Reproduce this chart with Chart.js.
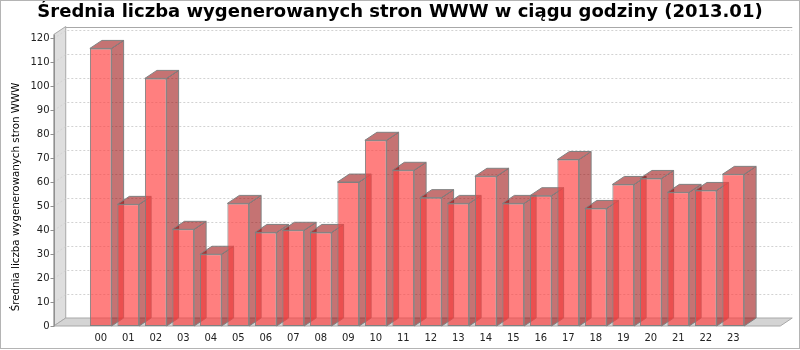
<!DOCTYPE html>
<html>
<head>
<meta charset="utf-8">
<script src="https://cdn.jsdelivr.net/npm/chart.js@4.4.1/dist/chart.umd.min.js"></script>
<style>
    html, body { margin: 0; padding: 0; background: #fff; }
</style>
</head>
<body>
<canvas id="pagesChart" width="800" height="350"></canvas>
<script>
// Average generated pages per hour, January 2013
const hours = ["00", "01", "02", "03", "04", "05", "06", "07", "08", "09", "10", "11",
               "12", "13", "14", "15", "16", "17", "18", "19", "20", "21", "22", "23"];
const avgPages = [115.7, 50.7, 103.2, 40.3, 29.9, 51.1, 39.0, 39.9, 39.0, 60.0, 77.4, 64.9,
                  53.5, 51.1, 62.4, 51.1, 54.3, 69.4, 49.0, 59.0, 61.5, 55.7, 56.5, 63.2];
const yTicks = [0, 10, 20, 30, 40, 50, 60, 70, 80, 90, 100, 110, 120];
const yMax = 121.5;

const chartTitle = "Średnia liczba wygenerowanych stron WWW w ciągu godziny (2013.01)";
const yTitle = "Średnia liczba wygenerowanych stron WWW";

// 3D look
const DX = 12, DY = 8;
const EDGE = 0.0504;           // category margin on each side of the front plane
const FRONT_COLOR = "rgba(255, 60, 60, 0.66)";
const SIDE_COLOR = "rgba(150, 0, 0, 0.55)";
const OUTLINE = "#808080";

function poly(ctx, pts) {
    ctx.beginPath();
    ctx.moveTo(pts[0][0], pts[0][1]);
    for (let i = 1; i < pts.length; i++) ctx.lineTo(pts[i][0], pts[i][1]);
    ctx.closePath();
}

const box3d = {
    id: "box3d",
    beforeDatasetsDraw(chart) {
        const { ctx, chartArea: a, scales: { y } } = chart;
        const m = (a.right - a.left) * EDGE;
        const x0 = a.left - m, x1 = a.right + m;
        const yb = y.getPixelForValue(0), yt = y.getPixelForValue(yMax);

        ctx.save();
        ctx.lineWidth = 1;

        // left wall
        ctx.fillStyle = "#dedede";
        ctx.strokeStyle = "#a8a8a8";
        poly(ctx, [[x0, yt], [x0 + DX, yt - DY], [x0 + DX, yb - DY], [x0, yb]]);
        ctx.fill();
        ctx.stroke();

        // floor
        ctx.fillStyle = "#d4d4d4";
        poly(ctx, [[x0, yb], [x0 + DX, yb - DY], [x1 + DX, yb - DY], [x1, yb]]);
        ctx.fill();
        ctx.stroke();

        // dashed gridlines across the wall and the back plane
        ctx.setLineDash([2, 2]);
        ctx.strokeStyle = "#d2d2d2";
        yTicks.forEach(v => {
            if (v === 0) return;
            const py = Math.round(y.getPixelForValue(v)) + 0.5;
            ctx.beginPath();
            ctx.moveTo(x0, py);
            ctx.lineTo(x0 + DX, py - DY);
            ctx.lineTo(x1 + DX, py - DY);
            ctx.stroke();
        });
        ctx.setLineDash([]);

        // top edge of the back plane
        ctx.strokeStyle = "#a8a8a8";
        const ty = Math.round(yt - DY) + 0.5;
        ctx.beginPath();
        ctx.moveTo(x0 + DX, ty);
        ctx.lineTo(x1 + DX, ty);
        ctx.stroke();

        // value axis line and tick marks
        ctx.strokeStyle = "#909090";
        const ax = Math.round(x0) + 0.5;
        ctx.beginPath();
        ctx.moveTo(ax, yt);
        ctx.lineTo(ax, yb);
        yTicks.forEach(v => {
            const py = Math.round(y.getPixelForValue(v)) + 0.5;
            ctx.moveTo(ax - 4, py);
            ctx.lineTo(ax, py);
        });
        ctx.stroke();

        // bar tops and right sides
        const meta = chart.getDatasetMeta(0);
        ctx.fillStyle = SIDE_COLOR;
        ctx.strokeStyle = OUTLINE;
        meta.data.forEach(bar => {
            const { x, y: top, base, width } = bar.getProps(["x", "y", "base", "width"], true);
            const l = x - width / 2, r = x + width / 2;
            poly(ctx, [[l, top], [l + DX, top - DY], [r + DX, top - DY], [r, top]]);
            ctx.fill();
            ctx.stroke();
            poly(ctx, [[r, top], [r + DX, top - DY], [r + DX, base - DY], [r, base]]);
            ctx.fill();
            ctx.stroke();
        });

        ctx.restore();
    },
    afterDraw(chart) {
        const { ctx } = chart;
        ctx.save();
        // axis title
        ctx.fillStyle = "#000";
        ctx.font = '10.3px "DejaVu Sans"';
        ctx.textAlign = "center";
        ctx.textBaseline = "middle";
        ctx.translate(16.5, 197);
        ctx.rotate(-Math.PI / 2);
        ctx.fillText(yTitle, 0, 0);
        ctx.restore();

        // outer frame
        ctx.save();
        ctx.strokeStyle = "#b4b4b4";
        ctx.lineWidth = 1;
        ctx.strokeRect(0.5, 0.5, 799, 348);
        ctx.restore();
    }
};

Chart.defaults.font.family = '"DejaVu Sans", sans-serif';
Chart.defaults.color = "#222";

new Chart(document.getElementById("pagesChart"), {
    type: "bar",
    data: {
        labels: hours,
        datasets: [{
            data: avgPages,
            backgroundColor: FRONT_COLOR,
            borderColor: OUTLINE,
            borderWidth: 1,
            borderSkipped: false,
            categoryPercentage: 1,
            barPercentage: 0.79
        }]
    },
    options: {
        responsive: false,
        animation: false,
        layout: { padding: 0 },
        plugins: {
            legend: { display: false },
            tooltip: { enabled: false },
            title: {
                display: true,
                text: chartTitle,
                color: "#000",
                font: { size: 18, weight: "bold" },
                padding: { top: 2, bottom: 10.9 }
            }
        },
        scales: {
            x: {
                grid: { display: false, drawTicks: false },
                border: { display: false },
                ticks: { padding: 6, font: { size: 10 }, maxRotation: 0, autoSkip: false },
                afterFit: s => { s.height = 24; }
            },
            y: {
                min: 0,
                max: yMax,
                afterBuildTicks: s => { s.ticks = yTicks.map(v => ({ value: v })); },
                grid: { display: false, drawTicks: false },
                border: { display: false },
                ticks: { padding: 37.5, font: { size: 10 } },
                afterFit: s => {
                    s.width = 87;
                    s.paddingTop = 6;
                    s.paddingBottom = 6;
                }
            },
            // empty strip on the right that holds the floor and bar depth
            yRight: {
                position: "right",
                grid: { display: false, drawTicks: false },
                border: { display: false },
                ticks: { display: false },
                afterFit: s => {
                    s.width = 53;
                    s.paddingTop = 0;
                    s.paddingBottom = 0;
                }
            }
        }
    },
    plugins: [box3d]
});
</script>
</body>
</html>
